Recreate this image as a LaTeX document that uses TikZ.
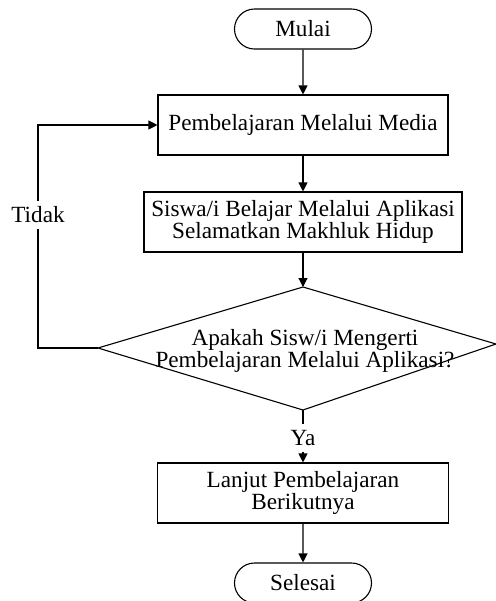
\documentclass[tikz,border=0pt]{standalone}
\usepackage{fontspec}
\setmainfont{Liberation Serif}
\usetikzlibrary{arrows.meta,shapes.misc}
\begin{document}
\begin{tikzpicture}[x=0.5pt,y=-0.5pt,
  line width=0.55pt,
  every node/.style={font=\fontsize{11.6}{11.2}\selectfont},
  proc/.style={draw, rectangle, align=center, inner sep=0pt, minimum height=30pt},
  term/.style={draw, rounded rectangle, inner sep=0pt, minimum width=68.5pt, minimum height=20pt},
  arr/.style={-{Triangle[length=4.5pt,width=4.5pt]}},
  lbl/.style={fill=white, inner xsep=1pt, inner ysep=3pt}
]
\useasboundingbox (0,0) rectangle (496,601);
\clip (0,0) rectangle (496,601);

\node[term] (mulai) at (303,29) {Mulai};
\node[proc, minimum width=145pt] (b1) at (303,125) {Pembelajaran Melalui Media};
\node[proc, minimum width=159pt] (b2) at (303,222) {Siswa/i Belajar Melalui Aplikasi\\Selamatkan Makhluk Hidup};

\coordinate (dt) at (303,287);
\coordinate (dr) at (496,344);
\coordinate (db) at (303,410);
\coordinate (dl) at (98,348);
\draw (dt) -- (dr) -- (db) -- (dl) -- cycle;
\node[align=center, inner sep=0pt] (dtext) at (305,351) {Apakah Sisw/i Mengerti\\Pembelajaran Melalui Aplikasi?};

\node[proc, minimum width=145.5pt] (b3) at (303,493) {Lanjut Pembelajaran\\Berikutnya};
\node[term] (selesai) at (303,583) {Selesai};

\coordinate (corner) at (38,348);

\draw[arr] (mulai) -- (b1);
\draw[arr] (b1) -- (b2);
\draw[arr] (b2) -- (dt);
\draw[arr] (db) -- (b3);
\draw[arr] (b3) -- (selesai);
\draw[arr] (dl) -- (corner) |- (b1.west);

\node[lbl] (tidak) at (38,215) {Tidak};
\node[lbl] (ya) at (303,438) {Ya};
\end{tikzpicture}
\end{document}
